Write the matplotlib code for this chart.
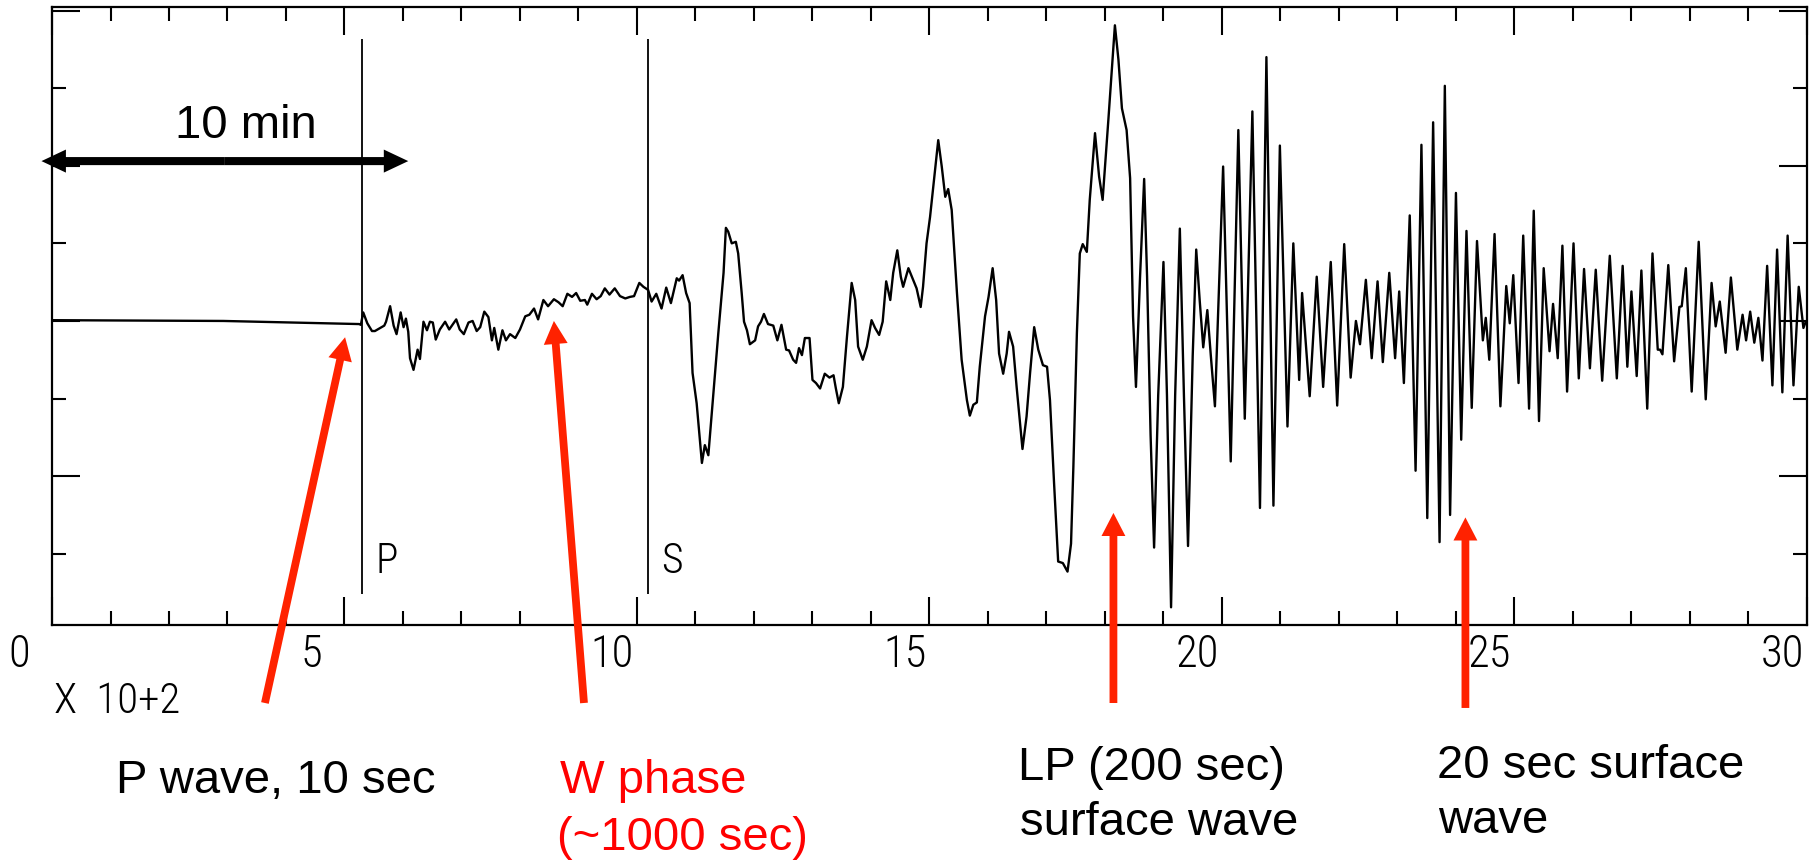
import matplotlib.pyplot as plt
from matplotlib.transforms import ScaledTranslation

# seismogram: time in units of 10^2 s, amplitude in (unlabelled) y-tick units
t_trace = [
    0.00, 2.93, 5.25,
    5.28, 5.32, 5.39, 5.47, 5.52, 5.61, 5.68, 5.71, 5.78, 5.84, 5.89, 5.96,
    6.01, 6.05, 6.09, 6.12, 6.18, 6.25, 6.29, 6.35, 6.41, 6.46, 6.51, 6.56,
    6.63, 6.72, 6.79, 6.91, 6.97, 7.04, 7.12, 7.19, 7.26, 7.32, 7.39, 7.46,
    7.52, 7.56, 7.63, 7.70, 7.76, 7.83, 7.92, 8.00, 8.09, 8.16, 8.24, 8.31,
    8.40, 8.48, 8.58, 8.66, 8.73, 8.81, 8.89, 8.96, 9.03, 9.11, 9.15, 9.23,
    9.31, 9.38, 9.45, 9.53, 9.62, 9.71, 9.80, 9.88, 9.95, 10.04, 10.11, 10.19,
    10.25, 10.33, 10.42, 10.50, 10.58, 10.68, 10.72, 10.78, 10.84, 10.90,
    10.95, 11.02, 11.07, 11.11, 11.16, 11.22, 11.31, 11.39, 11.48,
    11.52, 11.56, 11.62, 11.69, 11.73, 11.79, 11.83, 11.88, 11.93, 12.02,
    12.07, 12.12, 12.17, 12.24, 12.33, 12.40, 12.47, 12.55, 12.60, 12.67,
    12.72, 12.77, 12.82, 12.87, 12.95, 13.00, 13.06, 13.13, 13.21, 13.29,
    13.36, 13.40, 13.45, 13.52, 13.59, 13.67, 13.73, 13.78, 13.86, 13.93,
    14.01, 14.07, 14.14, 14.20, 14.26, 14.33, 14.38, 14.45, 14.51, 14.55,
    14.64, 14.70, 14.78, 14.85, 14.89, 14.95, 15.01, 15.09, 15.15, 15.21,
    15.27, 15.32, 15.38, 15.47, 15.55, 15.64, 15.69, 15.75, 15.81, 15.86,
    15.95, 16.01, 16.08, 16.14, 16.19, 16.26, 16.32, 16.36, 16.43, 16.49,
    16.59, 16.66, 16.72, 16.79, 16.86, 16.94, 17.01, 17.06, 17.13, 17.20,
    17.28, 17.36, 17.42, 17.46, 17.52, 17.57, 17.62, 17.69, 17.74, 17.83,
    17.90, 17.96,
    18.06, 18.17, 18.23, 18.29, 18.37, 18.43, 18.48, 18.53, 18.60, 18.67,
    18.72, 18.78, 18.84, 18.91, 19.00, 19.06, 19.13, 19.20, 19.28, 19.35,
    19.42, 19.50, 19.56, 19.62, 19.68, 19.75, 19.81, 19.88, 20.02, 20.15,
    20.28, 20.39, 20.52, 20.65, 20.76, 20.88, 20.99, 21.12, 21.22, 21.32,
    21.37, 21.50, 21.62, 21.73, 21.86, 21.97, 22.09, 22.20, 22.29, 22.36,
    22.46, 22.56, 22.66, 22.75, 22.86, 22.96, 23.03, 23.11, 23.21, 23.31,
    23.41, 23.51, 23.61, 23.72, 23.81, 23.90, 24.00, 24.09, 24.18, 24.27,
    24.36, 24.46, 24.51, 24.57,
    24.66, 24.76, 24.86, 24.92, 24.98, 25.07, 25.15, 25.25, 25.33, 25.42,
    25.50, 25.60, 25.66, 25.74, 25.82, 25.90, 26.01, 26.10, 26.19, 26.29,
    26.39, 26.50, 26.63, 26.75, 26.85, 26.93, 27.00, 27.09, 27.17, 27.27,
    27.36, 27.45, 27.49, 27.53, 27.63, 27.73, 27.82, 27.86, 27.93, 28.03,
    28.15, 28.27, 28.37, 28.44, 28.51, 28.61, 28.70, 28.81, 28.90, 28.96,
    29.03, 29.10, 29.17, 29.24, 29.32, 29.41, 29.49, 29.58, 29.67, 29.77,
    29.86, 29.94, 29.98,
]
amp_trace = [
    0.01, 0.00, -0.04,
    -0.05, 0.11, -0.03, -0.13, -0.13, -0.09, -0.06, -0.01, 0.19, -0.06, -0.17, 0.11,
    -0.08, 0.03, -0.14, -0.48, -0.63, -0.37, -0.49, -0.01, -0.12, -0.01, -0.02, -0.24,
    -0.11, -0.01, -0.11, 0.02, -0.11, -0.17, -0.02, 0.00, -0.13, -0.08, 0.12, 0.05,
    -0.25, -0.09, -0.37, -0.12, -0.25, -0.17, -0.22, -0.11, 0.06, 0.08, 0.16, 0.02,
    0.27, 0.19, 0.28, 0.24, 0.19, 0.35, 0.31, 0.36, 0.26, 0.27, 0.21, 0.35,
    0.28, 0.32, 0.42, 0.34, 0.42, 0.32, 0.29, 0.31, 0.32, 0.49, 0.44, 0.40,
    0.25, 0.35, 0.16, 0.43, 0.23, 0.55, 0.52, 0.59, 0.36, 0.23,
    -0.67, -1.06, -1.49, -1.83, -1.60, -1.73, -0.89, -0.16, 0.62,
    1.20, 1.15, 1.00, 1.02, 0.87, 0.36, -0.01, -0.12, -0.30, -0.25,
    -0.07, -0.01, 0.09, -0.04, -0.06, -0.25, -0.05, -0.37, -0.38, -0.50,
    -0.54, -0.35, -0.44, -0.22, -0.22, -0.76, -0.80, -0.87, -0.68, -0.73,
    -0.70, -0.87, -1.06, -0.85, -0.20, 0.49, 0.27, -0.33, -0.50, -0.33,
    0.01, -0.09, -0.18, -0.01, 0.51, 0.27, 0.62, 0.91, 0.57, 0.44,
    0.68, 0.57, 0.42, 0.18, 0.44, 1.00, 1.34, 1.90, 2.33, 1.99,
    1.60, 1.70, 1.43, 0.36, -0.50, -1.02, -1.22, -1.08, -1.05, -0.59,
    0.06, 0.31, 0.68, 0.27, -0.42, -0.68, -0.42, -0.14, -0.33, -0.85,
    -1.65, -1.23, -0.67, -0.08, -0.37, -0.57, -0.59, -1.02, -2.09, -3.10,
    -3.12, -3.23, -2.87, -1.88, -0.16, 0.87, 0.99, 0.89, 1.56, 2.42,
    1.86, 1.56,
    2.61, 3.81, 3.37, 2.74, 2.46, 1.84, 0.06, -0.85, 0.57, 1.83,
    0.57, -1.47, -2.92, -0.96, 0.76, -0.96, -3.69, -0.96, 1.19, -0.96,
    -2.90, -0.45, 0.92, 0.26, -0.34, 0.14, -0.45, -1.10, 1.99, -1.81,
    2.46, -1.26, 2.70, -2.41, 3.40, -2.38, 2.26, -1.36, 1.00, -0.76,
    0.36, -0.97, 0.57, -0.85, 0.76, -1.09, 0.99, -0.73, 0.00, -0.30,
    0.53, -0.48, 0.51, -0.53, 0.62, -0.48, 0.38, -0.80, 1.36, -1.93,
    2.27, -2.54, 2.56, -2.85, 3.03, -2.50, 1.65, -1.53, 1.16, -1.12,
    1.03, -0.25, 0.04, -0.50,
    1.12, -1.10, 0.45, -0.03, 0.59, -0.80, 1.10, -1.13, 1.42, -1.29,
    0.68, -0.39, 0.22, -0.48, 0.97, -0.91, 1.00, -0.74, 0.67, -0.61,
    0.66, -0.77, 0.84, -0.74, 0.71, -0.59, 0.38, -0.71, 0.65, -1.13,
    0.87, -0.37, -0.37, -0.43, 0.72, -0.52, 0.18, 0.19, 0.68, -0.91,
    1.02, -1.01, 0.49, -0.07, 0.25, -0.41, 0.56, -0.37, 0.08, -0.25,
    0.12, -0.28, 0.04, -0.51, 0.71, -0.83, 0.92, -0.92, 1.10, -0.83,
    0.44, -0.09, -0.01,
]

phase_names = ['P', 'S']
phase_times = [5.30, 10.19]

x_major = [0, 5, 10, 15, 20, 25, 30]
x_labels = ['0', '5', '10', '15', '20', '25', '30']

# narrow, thin plotter-style font for the axis text
plt.rcParams['font.family'] = ['Roboto Condensed', 'DejaVu Sans']
plt.rcParams['font.stretch'] = 'condensed'
plt.rcParams['font.weight'] = 'light'
annot_font = ['Liberation Sans', 'DejaVu Sans']
arrow_red = '#ff2200'

fig = plt.figure(figsize=(18.12, 8.61), dpi=100)
ax = fig.add_axes([0.0287, 0.2741, 0.9685, 0.7178])

ax.plot(t_trace, amp_trace, color='black', lw=1.7)
ax.vlines(phase_times, -3.52, 3.63, color='black', lw=1.3)
for name, tp in zip(phase_names, phase_times):
    ax.annotate(name, (tp, -3.25), xytext=(9.4, 0), textcoords='offset points',
                fontsize=30, ha='left', va='baseline')

ax.set_xlim(0, 30)
ax.set_ylim(-3.918, 4.046)
ax.set_xticks(x_major, x_labels)
ax.set_xticks(range(0, 31), minor=True)
ax.set_yticks([-2, 0, 2, 4])
ax.set_yticks([-3, -1, 1, 3], minor=True)
ax.tick_params(which='both', direction='in', top=True, right=True,
               width=1.5, labelleft=False, labelsize=32, pad=6)
ax.tick_params(which='major', length=20)
ax.tick_params(which='minor', length=10)
for s in ax.spines.values():
    s.set_linewidth(1.6)

# labels sit right-justified just left of their tick, single digits padded
for lbl in ax.get_xticklabels():
    lbl.set_ha('right')
    dx = -22 if len(lbl.get_text()) == 1 else -3
    lbl.set_transform(lbl.get_transform() + ScaledTranslation(dx / 100, 0, fig.dpi_scale_trans))

ax.text(0.03, -5.05, 'X  10+2', fontsize=31, ha='left', va='baseline')

# 10 min double arrow
simple_black = dict(arrowstyle='simple,head_length=0.88,head_width=0.83,tail_width=0.29',
                    mutation_scale=20, fc='black', ec='black', lw=0, shrinkA=0, shrinkB=0)
for end in (-0.18, 6.09):
    ax.annotate('', xy=(end, 2.06), xytext=(2.955, 2.06), arrowprops=simple_black,
                annotation_clip=False)

notes = dict(fontsize=34, family=annot_font, stretch='normal', weight='normal', va='baseline')
ax.text(3.31, 2.354, '10 min', ha='center', **notes)

# red pointer arrows
simple_red = dict(arrowstyle='simple,head_length=0.83,head_width=0.86,tail_width=0.28',
                  mutation_scale=20, fc=arrow_red, ec=arrow_red, lw=0, shrinkA=0, shrinkB=0)
arrow_tips = [(5.01, -0.21), (8.58, 0.0), (18.145, -2.474), (24.162, -2.532)]
arrow_tails = [(3.64, -4.923), (9.094, -4.923), (18.145, -4.923), (24.162, -4.987)]
for tip, tail in zip(arrow_tips, arrow_tails):
    ax.annotate('', xy=tip, xytext=tail, arrowprops=simple_red, annotation_clip=False)

ax.text(1.10, -6.082, 'P wave, 10 sec', **notes)
ax.text(8.68, -6.082, 'W phase', color='#ff0000', **notes)
ax.text(8.63, -6.817, '(~1000 sec)', color='#ff0000', **notes)
ax.text(16.52, -5.915, 'LP (200 sec)', **notes)
ax.text(16.55, -6.624, 'surface wave', **notes)
ax.text(23.67, -5.889, '20 sec surface', **notes)
ax.text(23.69, -6.598, 'wave', **notes)

fig.savefig('out.png', dpi=100)
